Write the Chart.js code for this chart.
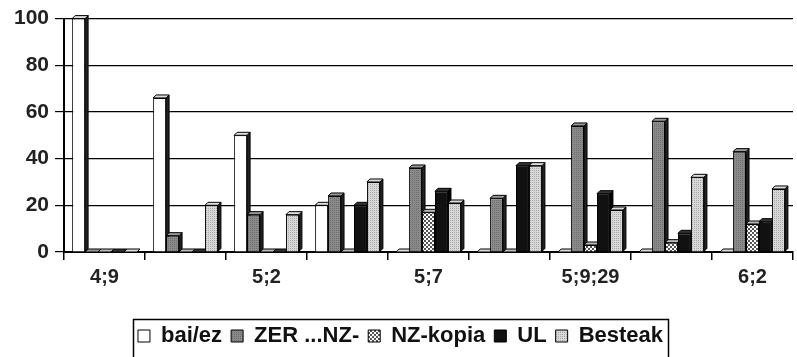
<!DOCTYPE html>
<html>
<head>
<meta charset="utf-8">
<script src="https://cdn.jsdelivr.net/npm/chart.js@4/dist/chart.umd.min.js"></script>
<style>
body{margin:0;background:#fff;}
#wrap{width:797px;height:357px;}
</style>
</head>
<body>
<div id="wrap"><canvas id="bar-chartcanvas"></canvas></div>
<script>
// categories (only every other one is labelled in the original)
var categories=["4;9","","5;2","","5;7","","5;9;29","","6;2"];
var baiEz  =[100,66,50,20,0,0,0,0,0];
var zer    =[0,7,16,24,36,23,54,56,43];
var nzKopia=[0,0,0,0,17,0,3,4,12];
var ul     =[0,0,0,20,26,37,25,8,13];
var besteak=[0,20,16,30,21,37,18,32,27];
var yTicks =[0,20,40,60,80,100];

function makePattern(bg,fg,size,cells){
	var c=document.createElement("canvas");
	c.width=size;c.height=size;
	var g=c.getContext("2d");
	g.fillStyle=bg;g.fillRect(0,0,size,size);
	g.fillStyle=fg;
	cells.forEach(function(p){g.fillRect(p[0],p[1],1,1);});
	return g.createPattern(c,"repeat");
}

var zerFill=makePattern("#8a8a8a","#6e6e6e",2,[[0,0]]);
var nzFill=makePattern("#ffffff","#555555",4,[[0,0],[1,0],[0,1],[2,2],[3,2],[2,3],[3,3],[1,1]]);
var bestFill=makePattern("#d8d8d8","#a8a8a8",2,[[0,0]]);

var font="'Liberation Sans', Arial, sans-serif";

// 3D sides and tops for each bar
var depthPlugin={
	id:"depth",
	beforeDatasetsDraw:function(chart){
		var ctx=chart.ctx;
		var d=3;
		chart.data.datasets.forEach(function(ds,i){
			var meta=chart.getDatasetMeta(i);
			meta.data.forEach(function(bar){
				var p=bar.getProps(["x","y","base","width"],true);
				var l=p.x-p.width/2, r=p.x+p.width/2;
				ctx.save();
				ctx.strokeStyle="#000";ctx.lineWidth=1;
				ctx.fillStyle=ds.sideColor;
				ctx.beginPath();
				ctx.moveTo(r,p.y);ctx.lineTo(r+d,p.y-d);ctx.lineTo(r+d,p.base-d);ctx.lineTo(r,p.base);
				ctx.closePath();ctx.fill();ctx.stroke();
				ctx.fillStyle=ds.topColor;
				ctx.beginPath();
				ctx.moveTo(l,p.y);ctx.lineTo(l+d,p.y-d);ctx.lineTo(r+d,p.y-d);ctx.lineTo(r,p.y);
				ctx.closePath();ctx.fill();ctx.stroke();
				ctx.restore();
			});
		});
	}
};

// frame around the legend (runs off the bottom edge as in the original)
var legendBox={
	id:"legendBox",
	afterDraw:function(chart){
		var boxes=chart.legend.legendHitBoxes;
		if(!boxes||!boxes.length)return;
		var l=Infinity,r=-Infinity,t=Infinity;
		boxes.forEach(function(h){
			l=Math.min(l,h.left);r=Math.max(r,h.left+h.width);
			t=Math.min(t,h.top);
		});
		var ctx=chart.ctx;
		ctx.save();
		ctx.strokeStyle="#000";ctx.lineWidth=1.5;
		ctx.strokeRect(Math.round(l-5)+0.5,Math.round(t-6)+0.5,Math.round(r-l+10),chart.height);
		ctx.restore();
	}
};

function series(label,values,fill,side,top){
	return {
		label:label,
		data:values,
		backgroundColor:fill,
		borderColor:"#000",
		borderWidth:1,
		sideColor:side,
		topColor:top,
		categoryPercentage:0.8,
		barPercentage:1.0
	};
}

var ctx=document.getElementById("bar-chartcanvas");
var chart=new Chart(ctx,{
	type:"bar",
	data:{
		labels:categories,
		datasets:[
			series("bai/ez",baiEz,"#ffffff","#222","#ddd"),
			series("ZER ...NZ-",zer,zerFill,"#222","#999"),
			series("NZ-kopia",nzKopia,nzFill,"#222","#bbb"),
			series("UL",ul,"#111111","#000","#333"),
			series("Besteak",besteak,bestFill,"#222","#ddd")
		]
	},
	options:{
		responsive:true,
		maintainAspectRatio:false,
		animation:false,
		layout:{padding:{left:8,right:4,top:11,bottom:0}},
		plugins:{
			tooltip:{enabled:false},
			legend:{
				position:"bottom",
				labels:{
					color:"#111",
					font:{family:font,size:22,weight:"bold"},
					boxWidth:12,
					boxHeight:12,
					padding:9
				}
			}
		},
		scales:{
			x:{
				grid:{display:true,drawOnChartArea:false,offset:true,color:"#000",tickLength:8,lineWidth:1.5},
				border:{color:"#000",width:2},
				afterFit:function(axis){axis.height+=22;},
				ticks:{autoSkip:false,maxRotation:0,color:"#222",font:{family:font,size:20,weight:"bold"},padding:5}
			},
			y:{
				min:0,
				max:100,
				afterBuildTicks:function(axis){axis.ticks=yTicks.map(function(v){return {value:v};});},
				grid:{color:"#000",lineWidth:1.2,tickLength:9},
				border:{color:"#000",width:2},
				ticks:{color:"#222",font:{family:font,size:21,weight:"bold"},padding:6}
			}
		}
	},
	plugins:[depthPlugin,legendBox]
});
</script>
</body>
</html>
